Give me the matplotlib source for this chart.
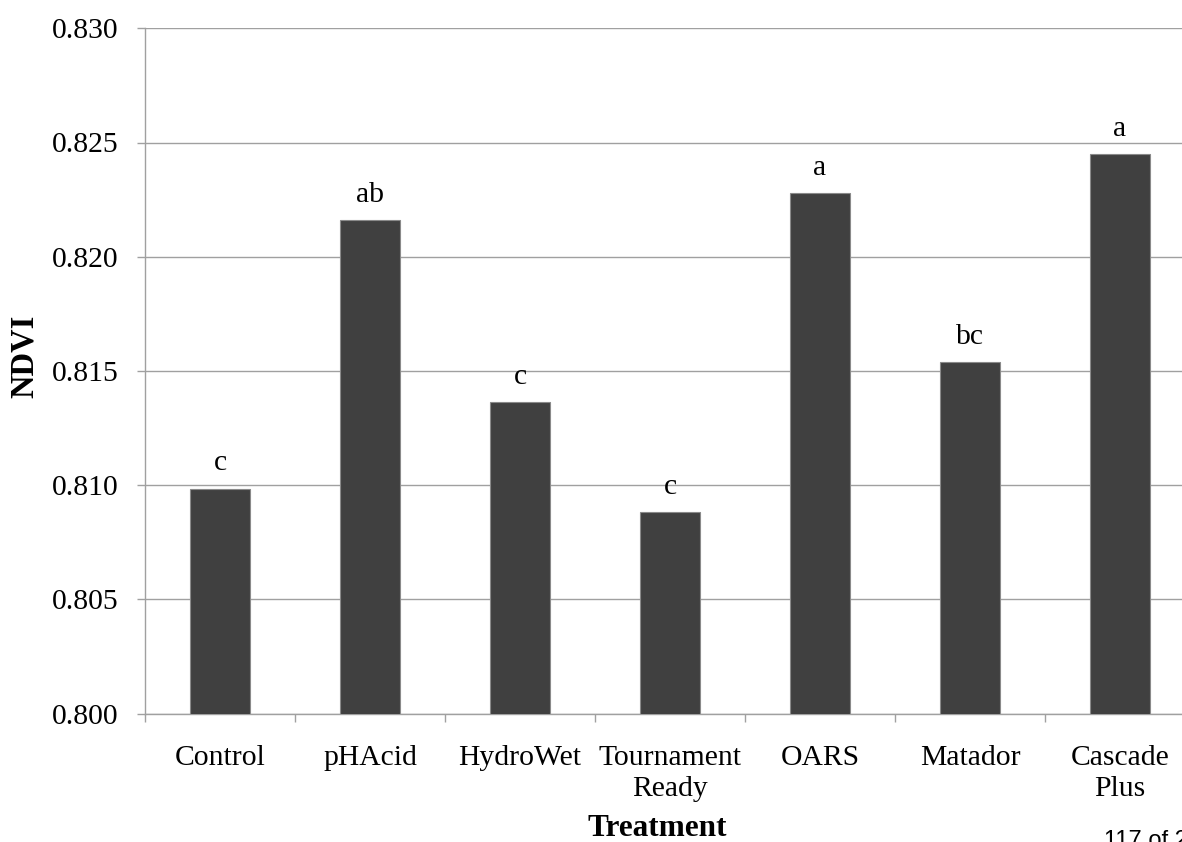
import matplotlib
matplotlib.use("Agg")
import matplotlib.pyplot as plt
import numpy as np

categories = ["Control", "pHAcid", "HydroWet", "Tournament\nReady", "OARS", "Matador", "Cascade\nPlus"]
ndvi = [0.80985, 0.82159, 0.81362, 0.80883, 0.82277, 0.81537, 0.82449]
letters = ["c", "ab", "c", "c", "a", "bc", "a"]
yticks = [0.800, 0.805, 0.810, 0.815, 0.820, 0.825, 0.830]

W, H = 1182, 842
fig = plt.figure(figsize=(W / 100, H / 100), dpi=100)
serif = ["Liberation Serif", "DejaVu Serif"]
fs = 21.3

ax = fig.add_axes([145 / W, 1 - 713.5 / H, 1050 / W, 685.2 / H])
x = np.arange(len(categories))
ax.bar(x, ndvi, width=0.4, color="#404040", edgecolor="#8a8a8a", linewidth=0.8, zorder=3)

for xi, v, lab in zip(x, ndvi, letters):
    ax.annotate(lab, (xi, v), xytext=(0, 13), textcoords="offset points",
                ha="center", va="baseline", fontsize=fs, family=serif, zorder=4)

ax.set_xlim(-0.5, len(categories) - 0.5)
ax.set_ylim(0.800, 0.830)
ax.set_yticks(yticks)
ax.set_yticklabels([f"{t:.3f}" for t in yticks], family=serif, fontsize=fs)
ax.set_xticks(x)
ax.set_xticklabels(categories, family=serif, fontsize=fs, linespacing=1.28)
ax.set_xticks(np.arange(len(categories) + 1) - 0.5, minor=True)

ax.tick_params(axis="x", which="major", length=0, pad=22.5)
ax.tick_params(axis="x", which="minor", length=6, width=1, color="#a0a0a0", direction="out")
ax.tick_params(axis="y", which="major", length=6, width=1, color="#a0a0a0", direction="out", pad=13)

ax.yaxis.grid(True, color="#a0a0a0", linewidth=1, zorder=0)
ax.set_axisbelow(True)
for s in ["top", "right"]:
    ax.spines[s].set_visible(False)
for s in ["left", "bottom"]:
    ax.spines[s].set_color("#a0a0a0")
    ax.spines[s].set_linewidth(1)

fig.text(24 / W, 1 - 356 / H, "NDVI", rotation=90, ha="center", va="center",
         fontsize=23.5, fontweight="bold", family=serif)
fig.text(657 / W, 1 - 828 / H, "Treatment", ha="center", va="center",
         fontsize=22.5, fontweight="bold", family=serif)
fig.text(1104 / W, 1 - 847 / H, "117 of 20", ha="left", va="baseline",
         fontsize=17, family=["Liberation Sans", "DejaVu Sans"])

fig.savefig("out.png", dpi=100)
